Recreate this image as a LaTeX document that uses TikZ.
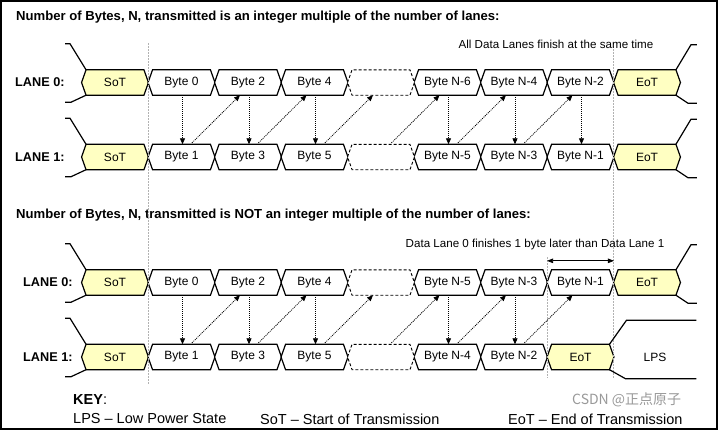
\documentclass[tikz,border=0pt]{standalone}
\usepackage{fontspec}
\setmainfont{Liberation Sans}
\newfontfamily\cjk{Noto Sans CJK SC}
\usetikzlibrary{arrows.meta}
\pgfdeclarelayer{bg}
\pgfsetlayers{bg,main}
\definecolor{sotyellow}{RGB}{255,255,194}
\tikzset{
  cell/.style={minimum width=66.5pt, minimum height=25pt, inner sep=0pt, font=\fontsize{12}{14}\selectfont},
  hexline/.style={draw=black, line width=1.2pt, fill=white, line join=miter},
  yel/.style={fill=sotyellow},
  dashcell/.style={dash pattern=on 3pt off 2pt, line width=0.9pt},
  lead/.style={line width=1.2pt},
  dataarrow/.style={line width=0.8pt, dash pattern=on 1pt off 1pt, -{Triangle[length=6pt,width=5pt]}},
  guide/.style={draw=black!30, line width=0.8pt, dash pattern=on 2pt off 1pt},
  titletext/.style={font=\bfseries\fontsize{13.1}{15}\selectfont, anchor=west, inner sep=0pt},
  lanelabel/.style={font=\bfseries\fontsize{12.7}{14}\selectfont, anchor=west, inner sep=0pt},
  note/.style={font=\fontsize{11.6}{13}\selectfont, inner sep=0pt},
  keytext/.style={font=\fontsize{14.5}{16}\selectfont, anchor=west, inner sep=0pt},
}
\newcommand\hexcell[5][]{%
  \node[cell] (#2) at (#3,#4) {#5};
  \begin{pgfonlayer}{bg}
    \path[hexline,#1] (#2.west) -- ([xshift=4.5pt]#2.north west) -- ([xshift=-4.5pt]#2.north east) -- (#2.east) -- ([xshift=-4.5pt]#2.south east) -- ([xshift=4.5pt]#2.south west) -- cycle;
  \end{pgfonlayer}}
\begin{document}
\begin{tikzpicture}[x=1pt,y=-1pt]
\useasboundingbox (0,0) rectangle (721,432);
\draw[line width=1.5pt] (1,1) rectangle (717,429);

% titles
\node[titletext] (t1) at (16,17) {Number of Bytes, N, transmitted is an integer multiple of the number of lanes:};
\node[titletext] (t2) at (16,215) {Number of Bytes, N, transmitted is NOT an integer multiple of the number of lanes:};

% guides
\draw[guide] (148.25,43) -- (148.25,384);
\draw[guide] (613.75,43) -- (613.75,378);
\draw[guide] (547.25,257) -- (547.25,378);

% ---------- top section ----------
\node[lanelabel] (la0) at (15,82.5) {LANE 0:};
\node[lanelabel] (la1) at (15,157) {LANE 1:};
\hexcell[yel]{a0}{115}{82.5}{SoT}
\hexcell[yel]{b0}{115}{157}{SoT}
\foreach \k/\t in {1/Byte 0,2/Byte 2,3/Byte 4,5/Byte N-6,6/Byte N-4,7/Byte N-2}
  {\hexcell{a\k}{115+66.5*\k}{82.5}{\t}}
\foreach \k/\t in {1/Byte 1,2/Byte 3,3/Byte 5,5/Byte N-5,6/Byte N-3,7/Byte N-1}
  {\hexcell{b\k}{115+66.5*\k}{157}{\t}}
\hexcell[dashcell]{a4}{381}{82.5}{}
\hexcell[dashcell]{b4}{381}{157}{}
\hexcell[yel]{a8}{647}{82.5}{EoT}
\hexcell[yel]{b8}{647}{157}{EoT}
\node[note] (n1) at (556,44) {All Data Lanes finish at the same time};

\foreach \k in {1,2,3,5,6,7}
  \draw[dataarrow] ([xshift=1pt]a\k.south) -- ([xshift=1pt]b\k.north);
\foreach \k [evaluate=\k as \n using int(\k+1)] in {1,...,6}
  \draw[dataarrow] ([xshift=10.5pt,yshift=1.5pt]b\k.north) -- ([xshift=-8pt]a\n.south);

% ---------- bottom section ----------
\node[lanelabel] (lc0) at (23,282.5) {LANE 0:};
\node[lanelabel] (lc1) at (23,357) {LANE 1:};
\hexcell[yel]{c0}{115}{282.5}{SoT}
\hexcell[yel]{d0}{115}{357}{SoT}
\foreach \k/\t in {1/Byte 0,2/Byte 2,3/Byte 4,5/Byte N-5,6/Byte N-3,7/Byte N-1}
  {\hexcell{c\k}{115+66.5*\k}{282.5}{\t}}
\foreach \k/\t in {1/Byte 1,2/Byte 3,3/Byte 5,5/Byte N-4,6/Byte N-2}
  {\hexcell{d\k}{115+66.5*\k}{357}{\t}}
\hexcell[dashcell]{c4}{381}{282.5}{}
\hexcell[dashcell]{d4}{381}{357}{}
\hexcell[yel]{c8}{647}{282.5}{EoT}
\hexcell[yel]{d7}{580.5}{357}{EoT}
\node[cell] (lps) at (655,357) {LPS};
\node[note] (n2) at (535,244) {Data Lane 0 finishes 1 byte later than Data Lane 1};
\draw[line width=0.8pt, {Triangle[length=6pt,width=4.5pt]}-{Triangle[length=6pt,width=4.5pt]}]
  ([yshift=9pt]c7.north west) -- ([yshift=9pt]c7.north east);

\foreach \k in {1,2,3,5,6}
  \draw[dataarrow] ([xshift=1pt]c\k.south) -- ([xshift=1pt]d\k.north);
\foreach \k [evaluate=\k as \n using int(\k+1)] in {1,...,6}
  \draw[dataarrow] ([xshift=10.5pt,yshift=1.5pt]d\k.north) -- ([xshift=-8pt]c\n.south);

% ---------- lead lines ----------
\foreach \s in {a0,b0,c0,d0} {
  \draw[lead] ([xshift=4.5pt]\s.north west) -- ++(-16,-26) -- ++(-5,0);
  \draw[lead] ([xshift=4.5pt]\s.south west) -- ++(-15,7) -- ++(-6,0);
}
\foreach \e in {a8,b8,c8} {
  \draw[lead] ([xshift=-4.5pt]\e.north east) -- ++(15,-25) -- ++(6,0);
  \draw[lead] ([xshift=-4.5pt]\e.south east) -- ++(12,8) -- ++(9,0);
}
\draw[lead] ([xshift=-4.5pt]d7.north east) -- ++(17,-24) -- ++(70,0);
\draw[lead] ([xshift=-4.5pt]d7.south east) -- ++(16,9) -- ++(71,0);

% ---------- key ----------
\node[keytext] (key) at (73,400) {\textbf{KEY}:};
\node[keytext] (k1) at (73,419) {LPS – Low Power State};
\node[keytext] (k2) at (260,419) {SoT – Start of Transmission};
\node[keytext] (k3) at (508,419) {EoT – End of Transmission};
\node[anchor=west, inner sep=0pt, text=black!40, font=\cjk\fontsize{14}{16}\selectfont] (wm) at (572,400) {CSDN @正点原子};
\end{tikzpicture}
\end{document}
